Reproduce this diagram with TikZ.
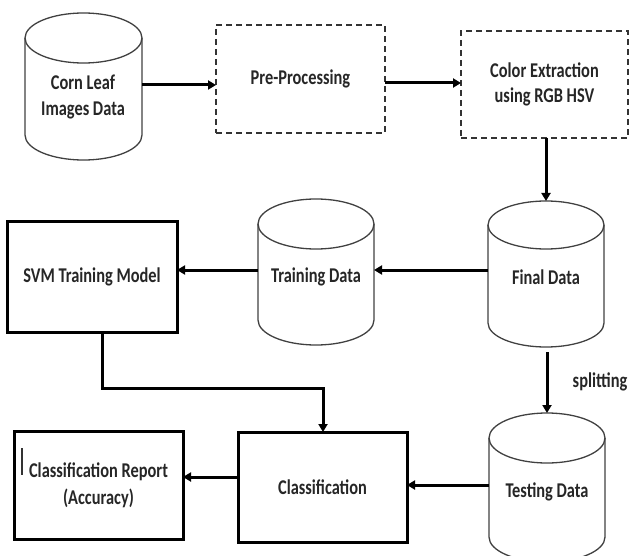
\documentclass[tikz,border=0pt]{standalone}
\usepackage{fontspec}
\setmainfont{Carlito}[FakeStretch=0.78]
\usetikzlibrary{arrows.meta}
\begin{document}
\begin{tikzpicture}[x=1pt,y=-1pt,
  lbl/.style={font=\fontsize{21}{26}\selectfont\bfseries, text=black!85, align=center, inner sep=0pt},
  area/.style={draw=none, rectangle, inner sep=0pt, outer sep=0pt},
  solidbox/.style={draw, line width=3pt, rectangle, inner sep=0pt, outer sep=0pt, font=\fontsize{21}{27}\selectfont\bfseries, text=black!85, align=center},
  dashbox/.style={draw=black!80, line width=1.8pt, dash pattern=on 6pt off 4pt, rectangle, inner sep=0pt, outer sep=0pt, font=\fontsize{21}{25}\selectfont\bfseries, text=black!85, align=center},
  cyl/.style={draw=black!75, line width=1.3pt},
  arr/.style={line width=3pt, -{Triangle[length=8pt,width=9pt]}},
]
\clip (0,0) rectangle (629,556);
\useasboundingbox (0,0) rectangle (629,556);

% cylinders (shapes)
\draw[cyl] (25,38) -- (25,135) arc[start angle=180,end angle=360,x radius=58.5pt,y radius=25pt] -- (142,38);
\draw[cyl] (83.5,38) ellipse[x radius=58.5pt, y radius=25pt];
\draw[cyl] (258,224) -- (258,320) arc[start angle=180,end angle=360,x radius=58pt,y radius=25pt] -- (374,224);
\draw[cyl] (316,224) ellipse[x radius=58pt, y radius=25pt];
\draw[cyl] (488,225) -- (488,323) arc[start angle=180,end angle=360,x radius=58pt,y radius=24pt] -- (604,225);
\draw[cyl] (546,225) ellipse[x radius=58pt, y radius=24pt];
\draw[cyl] (489,438) -- (489,537) arc[start angle=180,end angle=360,x radius=58pt,y radius=25pt] -- (605,438);
\draw[cyl] (547,438) ellipse[x radius=58pt, y radius=25pt];

% cylinder nodes
\node[area, minimum width=117pt, minimum height=147pt] (corn) at (83.5,86.5) {};
\node[area, minimum width=116pt, minimum height=146pt] (train) at (316,272) {};
\node[area, minimum width=116pt, minimum height=146pt] (final) at (546,274) {};
\node[area, minimum width=116pt, minimum height=149pt] (test) at (547,487.5) {};
\node[lbl] (corntxt) at (83,97) {Corn Leaf\\Images Data};
\node[lbl] (traintxt) at (316,277) {Training Data};
\node[lbl] (finaltxt) at (546,277) {Final Data};
\node[lbl] (testtxt) at (547,492) {Testing Data};

% boxes
\node[dashbox, minimum width=169pt, minimum height=108pt] (pre) at (300.5,79) {Pre-Processing};
\node[dashbox, minimum width=167pt, minimum height=107pt] (color) at (544.5,84.5) {Color Extraction\\using RGB HSV};
\node[solidbox, minimum width=170pt, minimum height=110pt] (svm) at (92,277) {SVM Training Model};
\node[solidbox, minimum width=169pt, minimum height=110pt] (classif) at (322.5,487) {Classification};
\node[solidbox, minimum width=169pt, minimum height=108pt] (report) at (98.5,485) {Classification Report\\(Accuracy)};

\node[lbl] (split) at (600,382) {splitting};
\draw[line width=1.3pt, black!80] (22,448) -- (22,475);

% connectors
\draw[arr] (corn.east |- 0,85) -- (pre.west |- 0,85);
\draw[arr] (pre.east |- 0,83) -- (color.west |- 0,83);
\draw[arr] (final.north |- color.south) -- (final.north);
\draw[arr] (final.west |- 0,270) -- (train.east |- 0,270);
\draw[arr] (train.west |- 0,270) -- (svm.east |- 0,270);
\draw[arr] (test.north |- 0,352) -- (test.north);
\draw[arr] (test.west |- 0,485) -- (classif.east |- 0,485);
\draw[arr] (classif.west |- 0,477) -- (report.east |- 0,477);
\draw[arr] (svm.south -| 102,0) |- (323,388) -- (classif.north -| 323,0);
\end{tikzpicture}
\end{document}
